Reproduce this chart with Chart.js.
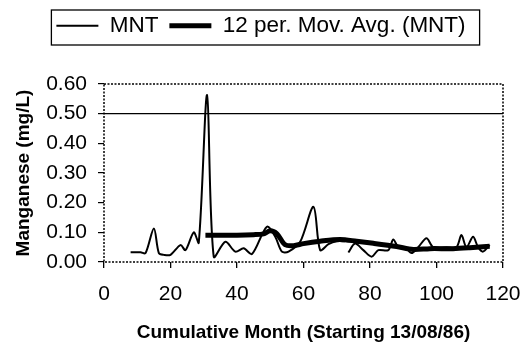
<!DOCTYPE html>
<html>
<head>
<meta charset="utf-8">
<script src="https://cdn.jsdelivr.net/npm/chart.js@4/dist/chart.umd.min.js"></script>
<style>
html,body{margin:0;padding:0;background:#fff;}
#wrap{width:522px;height:346px;}
</style>
</head>
<body>
<div id="wrap"><canvas id="c" width="522" height="346"></canvas></div>
<script>
const seriesNames = ["MNT", "12 per. Mov. Avg. (MNT)"];
const mntMonths = [8, 11, 12.5, 15, 16.5, 18, 20, 23, 24.5, 27, 28.5, 31, 33, 36.5, 39.5, 42, 44.5, 49, 51.5, 53.5, 55.5, 59, 63, 65, 67.5, 70, 72.5, 73, 73.5, 75.5, 78, 80.5, 82.5, 85.5, 87, 88.5, 90.5, 92.5, 94.5, 97, 99, 103, 106, 107.5, 109, 111, 112.5, 114, 116];
const mntValues = [0.033, 0.033, 0.03, 0.113, 0.03, 0.024, 0.024, 0.057, 0.04, 0.10, 0.065, 0.563, 0.018, 0.068, 0.035, 0.046, 0.027, 0.119, 0.085, 0.035, 0.035, 0.068, 0.186, 0.04, 0.06, 0.07, 0.07, null, 0.032, 0.062, 0.04, 0.018, 0.04, 0.04, 0.076, 0.05, 0.05, 0.03, 0.05, 0.08, 0.05, 0.05, 0.05, 0.091, 0.05, 0.085, 0.05, 0.035, 0.057];
const maMonths = [30.5, 35, 40, 45, 48, 50, 52, 54.5, 57, 60, 65, 71, 76, 81, 88, 93, 98, 105, 110, 116];
const maValues = [0.09, 0.09, 0.09, 0.092, 0.095, 0.105, 0.095, 0.058, 0.055, 0.062, 0.07, 0.076, 0.07, 0.063, 0.052, 0.042, 0.045, 0.045, 0.048, 0.053];
const xTickValues = [0, 20, 40, 60, 80, 100, 120];
const yTickValues = [0, 0.1, 0.2, 0.3, 0.4, 0.5, 0.6];
const limitValue = 0.5;
const xTitle = "Cumulative Month (Starting 13/08/86)";
const yTitle = "Manganese (mg/L)";

const FONT = "'Liberation Sans', Arial, sans-serif";

const frame = {
  id: 'frame',
  beforeDraw(chart) {
    const lg = chart.legend;
    if (lg) {
      const h = lg.bottom - lg.top;
      lg.top = 3.5;
      lg.bottom = 3.5 + h;
    }
  },
  afterDraw(chart) {
    const ctx = chart.ctx;
    const a = chart.chartArea;
    ctx.save();
    ctx.strokeStyle = '#000';
    ctx.lineWidth = 1.5;
    ctx.setLineDash([2, 1.5]);
    ctx.strokeRect(a.left, a.top, a.right - a.left, a.bottom - a.top);
    ctx.setLineDash([]);
    const lg = chart.legend;
    if (lg && lg.legendHitBoxes && lg.legendHitBoxes.length) {
      const hb = lg.legendHitBoxes;
      const l = hb[0].left - 5;
      const r = hb[hb.length - 1].left + hb[hb.length - 1].width + 14;
      ctx.lineWidth = 1.3;
      ctx.strokeRect(l, 10, r - l, 35);
    }
    ctx.restore();
  }
};

new Chart(document.getElementById('c'), {
  type: 'line',
  data: {
    datasets: [
      {
        label: seriesNames[0],
        data: mntMonths.map((m, i) => ({x: m, y: mntValues[i]})),
        borderColor: '#000',
        backgroundColor: '#000',
        borderWidth: 2,
        pointRadius: 0,
        tension: 0.3,
        spanGaps: false
      },
      {
        label: seriesNames[1],
        data: maMonths.map((m, i) => ({x: m, y: maValues[i]})),
        borderColor: '#000',
        backgroundColor: '#000',
        borderWidth: 5,
        pointRadius: 0,
        tension: 0.3
      }
    ]
  },
  options: {
    responsive: false,
    animation: false,
    layout: {padding: {top: 3, left: 0, right: 0, bottom: 0}},
    plugins: {
      tooltip: {enabled: false},
      legend: {
        display: true,
        position: 'top',
        align: 'center',
        labels: {
          color: '#000',
          font: {family: FONT, size: 22.5},
          boxWidth: 42,
          boxHeight: 0,
          padding: 11,
          generateLabels(chart) {
            return chart.data.datasets.map((ds, i) => ({
              text: ds.label,
              fillStyle: 'rgba(0,0,0,0)',
              strokeStyle: '#000',
              lineWidth: ds.borderWidth,
              fontColor: '#000',
              hidden: false,
              datasetIndex: i
            }));
          }
        }
      }
    },
    scales: {
      x: {
        type: 'linear',
        min: 0, max: 120,
        afterBuildTicks(s) { s.ticks = xTickValues.map(v => ({value: v})); },
        afterFit(s) { s.height = 84; s.paddingRight = 19; s.paddingLeft = 0; },
        border: {display: false},
        grid: {drawOnChartArea: false, drawTicks: true, tickLength: 6, tickColor: '#000', lineWidth: 1.3},
        ticks: {
          color: '#000', font: {family: FONT, size: 21}, padding: 14, maxRotation: 0,
          callback: v => String(v)
        },
        title: {
          display: true, text: xTitle, color: '#000',
          font: {family: FONT, size: 19, weight: 'bold'},
          padding: {top: 0, bottom: 2}
        }
      },
      y: {
        min: 0, max: 0.6,
        afterBuildTicks(s) { s.ticks = yTickValues.map(v => ({value: v})); },
        afterFit(s) { s.width = 104; s.paddingTop = 84; },
        border: {display: false},
        grid: {
          drawOnChartArea: true, drawTicks: true, tickLength: 6, tickColor: '#000',
          lineWidth: 1.2,
          color: c => (c.tick && Math.abs(c.tick.value - limitValue) < 1e-9) ? '#000' : 'rgba(0,0,0,0)'
        },
        ticks: {
          color: '#000', font: {family: FONT, size: 21}, padding: 11,
          callback: v => Number(v).toFixed(2)
        },
        title: {
          display: true, text: yTitle, color: '#000',
          font: {family: FONT, size: 19, weight: 'bold'},
          padding: {top: 12, bottom: 0}
        }
      }
    }
  },
  plugins: [frame]
});
</script>
</body>
</html>
